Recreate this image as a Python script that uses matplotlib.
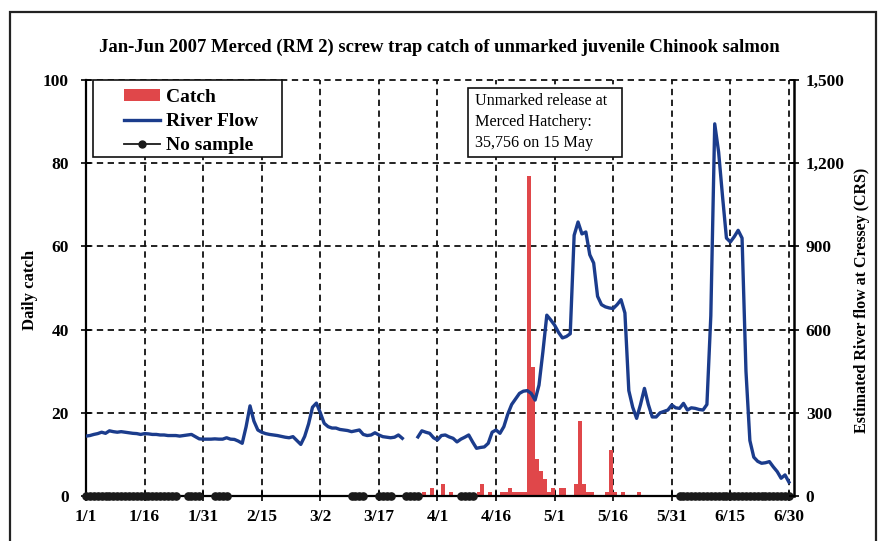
import numpy as np
import pandas as pd
import matplotlib
matplotlib.use('Agg')
import matplotlib.pyplot as plt
import matplotlib.dates as mdates
from matplotlib.ticker import FuncFormatter
from matplotlib.patches import Rectangle, Patch
from matplotlib.lines import Line2D

plt.rcParams['font.family'] = ['Liberation Serif', 'DejaVu Serif']

# ---------------- data ----------------
start_date = '2007-01-01'
end_date = '2007-06-30'

# daily estimated river flow at Cressey (cfs), Jan 1 .. Jun 30 (None = missing)
river_flow = [
    216, 218, 222, 225, 230, 226, 235, 232, 230, 232,
    230, 228, 226, 225, 222, 225, 224, 222, 222, 220,
    220, 218, 218, 218, 216, 218, 220, 222, 214, 206,
    205, 205, 205, 206, 205, 205, 210, 205, 204, 198,
    190, 250, 325, 270, 238, 230, 225, 222, 220, 218,
    215, 212, 210, 214, 200, 186, 215, 260, 320, 335,
    300, 262, 250, 245, 245, 240, 238, 236, 232, 235,
    238, 222, 218, 220, 228, 220, 214, 212, 210, 212,
    220, 208, None, None, None, 213, 235, 230, 226, 210,
    202, 218, 220, 213, 208, 195, 205, 212, 220, 195,
    172, 175, 177, 190, 230, 238, 226, 250, 295, 330,
    350, 370, 378, 380, 370, 346, 400, 520, 652, 635,
    616, 590, 570, 575, 585, 940, 988, 945, 952, 870,
    840, 720, 690, 682, 678, 676, 690, 708, 660, 380,
    320, 280, 330, 388, 330, 285, 285, 300, 305, 310,
    328, 318, 316, 334, 310, 318, 316, 312, 310, 330,
    650, 1342, 1240, 1080, 930, 916, 935, 958, 930, 450,
    200, 140, 125, 118, 120, 124, 105, 88, 64, 76, 50,
]

catch_dates = [
    '2007-03-28', '2007-03-30', '2007-04-02', '2007-04-04', '2007-04-11',
    '2007-04-12', '2007-04-14', '2007-04-17', '2007-04-18', '2007-04-19',
    '2007-04-20', '2007-04-21', '2007-04-22', '2007-04-23', '2007-04-24',
    '2007-04-25', '2007-04-26', '2007-04-27', '2007-04-28', '2007-04-29',
    '2007-04-30', '2007-05-02', '2007-05-03', '2007-05-06', '2007-05-07',
    '2007-05-08', '2007-05-09', '2007-05-10', '2007-05-14', '2007-05-15',
    '2007-05-16', '2007-05-18', '2007-05-22',
]
catch_values = [
    1, 2, 3, 1, 1,
    3, 1, 1, 1, 2,
    1, 1, 1, 1, 77,
    31, 9, 6, 4, 1,
    2, 2, 2, 3, 18,
    3, 1, 1, 1, 11,
    1, 1, 1,
]

no_sample_ranges = [
    ('2007-01-01', '2007-01-24'),
    ('2007-01-27', '2007-01-30'),
    ('2007-02-03', '2007-02-06'),
    ('2007-03-10', '2007-03-13'),
    ('2007-03-17', '2007-03-20'),
    ('2007-03-24', '2007-03-27'),
    ('2007-04-07', '2007-04-10'),
    ('2007-06-02', '2007-06-30'),
]

tick_dates = ['2007-01-01', '2007-01-16', '2007-01-31', '2007-02-15', '2007-03-02',
              '2007-03-17', '2007-04-01', '2007-04-16', '2007-05-01', '2007-05-16',
              '2007-05-31', '2007-06-15', '2007-06-30']
tick_labels = ['1/1', '1/16', '1/31', '2/15', '3/2', '3/17', '4/1', '4/16',
               '5/1', '5/16', '5/31', '6/15', '6/30']

catch_ticks = [0, 20, 40, 60, 80, 100]
flow_ticks = [0, 300, 600, 900, 1200, 1500]

title = 'Jan-Jun 2007 Merced (RM 2) screw trap catch of unmarked juvenile Chinook salmon'
note_lines = ['Unmarked release at', 'Merced Hatchery:', '35,756 on 15 May']

# ---------------- figure ----------------
W, H = 881, 541
fig = plt.figure(figsize=(W / 100, H / 100), dpi=100)
SERIF = 'Liberation Serif'
CATCH_C = '#e0474a'
FLOW_C = '#1b3c8c'
DOT_C = '#1a1a1a'


def px(x, y):
    """figure pixel (from top-left) -> figure fraction"""
    return x / W, 1 - y / H


# outer frame
fig.patches.append(Rectangle((10 / W, -0.05), 866 / W, 1.05 - 12 / H,
                             transform=fig.transFigure, fill=False,
                             edgecolor='#222222', lw=1.6))

ax = fig.add_axes([86 / W, 45 / H, 708 / W, 416 / H])

flow_idx = pd.date_range(start_date, end_date, freq='D')
flow = np.array([np.nan if v is None else v for v in river_flow], dtype=float)
cdates = pd.to_datetime(catch_dates)

x0 = mdates.date2num(pd.Timestamp(start_date))
x1 = mdates.date2num(pd.Timestamp(end_date)) + 1.3

ax.bar(mdates.date2num(cdates), catch_values, width=1.0, align='edge',
       color=CATCH_C, edgecolor='none', zorder=2)

# no-sample markers
ns_x, ns_y = [], []
for a, b in no_sample_ranges:
    d = pd.date_range(a, b, freq='D')
    ns_x.extend(mdates.date2num(d))
    ns_y.extend([0] * len(d))
    ns_x.append(np.nan)
    ns_y.append(np.nan)
ax.plot(ns_x, ns_y, color=DOT_C, lw=1.5, marker='o', ms=5.2,
        markeredgecolor=DOT_C, clip_on=False, zorder=6)

ax.set_xlim(x0, x1)
ax.set_ylim(0, 100)
tick_nums = mdates.date2num(pd.to_datetime(tick_dates))
ax.set_xticks(tick_nums)
ax.set_xticklabels(tick_labels)
ax.set_yticks(catch_ticks)

dash = (0, (3.5, 2.5))
for t in tick_nums[1:]:
    ax.axvline(t, color='#111111', lw=1.3, linestyle=dash, zorder=1)
for c in catch_ticks[1:]:
    ax.axhline(c, color='#111111', lw=1.3, linestyle=dash, zorder=1,
               clip_on=False)

ax.spines['top'].set_visible(False)
ax.spines['right'].set_visible(False)
ax.spines['left'].set_linewidth(1.6)
ax.spines['bottom'].set_linewidth(1.6)

ax.tick_params(axis='both', direction='inout', length=7, width=1.2,
               labelsize=12.5)
ax.tick_params(axis='y', pad=9)
ax.tick_params(axis='x', pad=6)
for lab in ax.get_xticklabels() + ax.get_yticklabels():
    lab.set_fontweight('bold')

ax2 = ax.twinx()
ax2.plot(flow_idx, flow, color=FLOW_C, lw=2.4, solid_joinstyle='round',
         zorder=3)
ax2.set_xlim(x0, x1)
ax2.set_ylim(0, 1500)
ax2.set_yticks(flow_ticks)
ax2.yaxis.set_major_formatter(FuncFormatter(lambda v, p: f'{int(v):,}'))
ax2.tick_params(axis='y', direction='inout', length=7, width=1.2,
                labelsize=12.5, pad=5)
for lab in ax2.get_yticklabels():
    lab.set_fontweight('bold')
ax2.spines['top'].set_visible(False)
ax2.spines['left'].set_visible(False)
ax2.spines['bottom'].set_visible(False)
ax2.spines['right'].set_linewidth(1.8)

# legend (frame drawn separately)
fig.patches.append(Rectangle(px(93, 157), 189 / W, 77 / H,
                             transform=fig.transFigure, facecolor='white',
                             edgecolor='#111111', lw=1.2, zorder=8))
handles = [Patch(facecolor=CATCH_C, edgecolor='none', label='Catch'),
           Line2D([], [], color=FLOW_C, lw=2.4, label='River Flow'),
           Line2D([], [], color=DOT_C, lw=1.3, marker='o', ms=5,
                  label='No sample')]
leg = fig.legend(handles=handles, loc='upper left',
                 bbox_to_anchor=px(124, 89), borderaxespad=0, borderpad=0,
                 frameon=False, prop=dict(family=SERIF, weight='bold', size=14),
                 handlelength=1.85, handleheight=0.55, labelspacing=0.36,
                 handletextpad=0.3)
leg.set_zorder(9)

# annotation box
fig.patches.append(Rectangle(px(468, 157), 154 / W, 69 / H,
                             transform=fig.transFigure, facecolor='white',
                             edgecolor='#111111', lw=1.2, zorder=8))
for i, line in enumerate(note_lines):
    fig.text(*px(475, 101 + 21 * i), line, ha='left', va='center',
             fontsize=11.6, family=SERIF, zorder=9)

# titles and axis labels
fig.text(*px(439, 47), title, ha='center', va='center',
         fontsize=13.4, fontweight='bold', family=SERIF)
fig.text(*px(30, 290), 'Daily catch', rotation=90, ha='center',
         va='center', fontsize=12, fontweight='bold', family=SERIF)
fig.text(*px(862, 300), 'Estimated River flow at Cressey (CRS)',
         rotation=90, ha='center', va='center', fontsize=11.5,
         fontweight='bold', family=SERIF)

fig.savefig('out.png', dpi=100)
